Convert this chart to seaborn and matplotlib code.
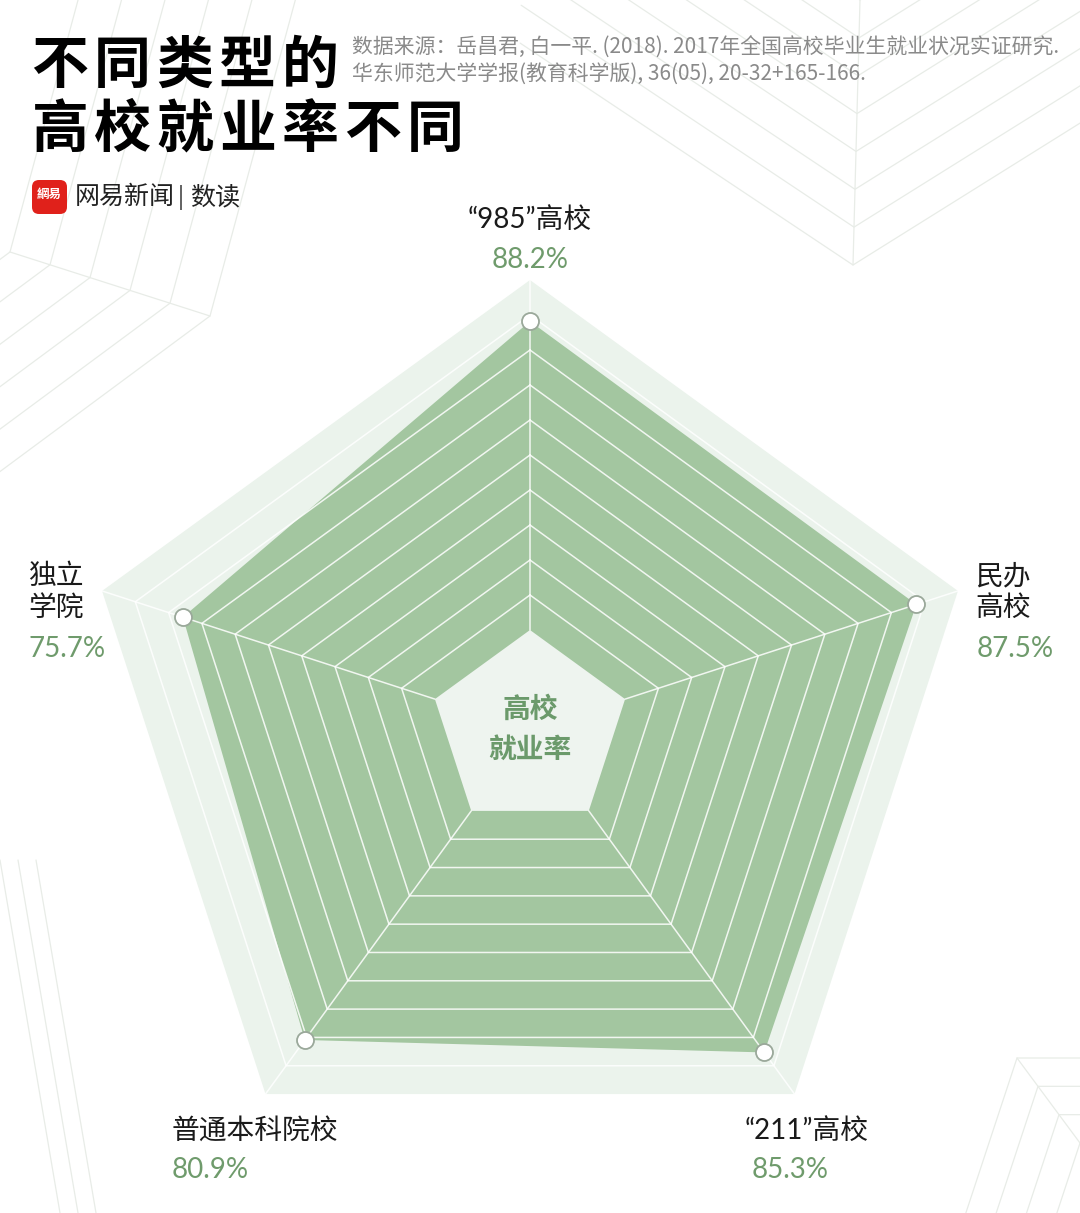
import numpy as np
import pandas as pd
import matplotlib
matplotlib.use("Agg")
import matplotlib.pyplot as plt
from matplotlib.patches import FancyBboxPatch
import seaborn as sns

# 数据
categories = ["“985”高校", "民办\n高校", "“211”高校", "普通本科院校", "独立\n学院"]
values = [88.2, 87.5, 85.3, 80.9, 75.7]
value_labels = ["88.2%", "87.5%", "85.3%", "80.9%", "75.7%"]
ring_levels = list(range(0, 101, 10))

title_lines = ["不同类型的", "高校就业率不同"]
source_lines = ["数据来源：岳昌君, 白一平. (2018). 2017年全国高校毕业生就业状况实证研究.",
                "华东师范大学学报(教育科学版), 36(05), 20-32+165-166."]

sns.set_style("white")
plt.rcParams['font.family'] = ['Noto Sans CJK SC', 'DejaVu Sans']

W, H = 1080, 1213
fig = plt.figure(figsize=(W / 100, H / 100), dpi=100)
fig.patch.set_facecolor("white")

# 背景装饰线
bg = fig.add_axes([0, 0, 1, 1], zorder=0)
bg.set_xlim(0, W)
bg.set_ylim(H, 0)
bg.axis("off")
deco = "#e8ece7"

def chevron(p0, p1, n, d1, d2, L1, L2):
    # 沿 p0->p1 的脊线排布 n 条折线
    p0, p1 = np.array(p0, float), np.array(p1, float)
    bg.plot([p0[0], p1[0]], [p0[1], p1[1]], color=deco, lw=0.9)
    d1 = np.array(d1, float) / np.linalg.norm(d1)
    d2 = np.array(d2, float) / np.linalg.norm(d2)
    for i in range(n):
        p = p0 + (p1 - p0) * i / (n - 1)
        a, b = p + d1 * L1, p + d2 * L2
        bg.plot([a[0], p[0], b[0]], [a[1], p[1], b[1]], color=deco, lw=0.9)

chevron((860, 0), (853, 265), 8, (-1.5, -1), (1.6, -1), 400, 450)
chevron((10, 252), (210, 316), 6, (0.27, -1), (-1.35, 1), 400, 300)
chevron((1017, 1058), (1080, 1143), 4, (-0.33, 1), (1, 0), 200, 100)
for x0 in [0, 18, 36]:
    bg.plot([x0, x0 + 60], [860, 1213], color=deco, lw=0.9)

# 雷达图
cx, cy, R = 530, 730, 450
ax = fig.add_axes([(cx - R) / W, (H - cy - R) / H, 2 * R / W, 2 * R / H],
                  projection="polar", zorder=1)
ax.set_theta_zero_location("N")
ax.set_theta_direction(-1)
ax.set_ylim(0, 100)
ax.set_rorigin(-100 * 100 / (R - 100))
ax.grid(False)
ax.set_xticks([])
ax.set_yticks([])
ax.set_axis_off()

theta = np.deg2rad(np.arange(len(categories)) * 360 / len(categories))
theta_c = np.append(theta, theta[0])
vals_c = np.append(values, values[0])

ax.fill(theta_c, [100] * len(theta_c), color="#ebf3ec", lw=0, zorder=1, clip_on=False)
ax.fill(theta_c, vals_c, color="#a3c6a0", lw=0, zorder=2, clip_on=False)
ax.fill(theta_c, [0] * len(theta_c), color="#eef4ef", lw=0, zorder=3, clip_on=False)
for r in ring_levels[1:-1]:
    ax.plot(theta_c, [r] * len(theta_c), color="white", lw=1.1, alpha=0.85,
            zorder=4, clip_on=False)
for t in theta:
    ax.plot([t, t], [0, 100], color="white", lw=1.1, alpha=0.85, zorder=4, clip_on=False)

df = pd.DataFrame({"theta": theta, "value": values, "cat": categories})
sns.scatterplot(data=df, x="theta", y="value", ax=ax, s=150, color="white",
                edgecolor="#9aa89a", linewidth=1.3, zorder=6, legend=False, clip_on=False)
ax.set_xlabel("")
ax.set_ylabel("")

# 中心文字
fig.text(cx / W, 1 - 710 / H, "高校", ha="center", va="center", fontsize=20,
         fontweight="bold", color="#6b9a6b")
fig.text(cx / W, 1 - 750 / H, "就业率", ha="center", va="center", fontsize=20,
         fontweight="bold", color="#6b9a6b")

# 类别标签
lab_font = ['Lato', 'Noto Sans CJK SC']
label_pos = [(530, 220, "center"), (975, 592, "left"), (745, 1131, "left"),
             (172, 1131, "left"), (28, 592, "left")]
pct_pos = [(530, 260), (977, 649), (752, 1170), (172, 1170), (28, 649)]
for cat, vl, (lx, ly, ha), (px, py) in zip(categories, value_labels, label_pos, pct_pos):
    fig.text(lx / W, 1 - ly / H, cat, ha=ha, va="center", fontsize=20,
             color="#1a1a1a", family=lab_font, linespacing=1.25)
    fig.text(px / W, 1 - py / H, vl, ha="center" if ha == "center" else "left",
             va="center", fontsize=20, color="#6f9b6c", family=['Lato', 'DejaVu Sans'])

# 标题（逐字排布，字距较宽）
for row, (line, ty) in enumerate(zip(title_lines, [66, 130])):
    for i, ch in enumerate(line):
        fig.text((60 + i * 62.5) / W, 1 - ty / H, ch, ha="center", va="center",
                 fontsize=41, fontweight="bold", color="black")
fig.text(352 / W, 1 - 48 / H, source_lines[0], ha="left", va="center", fontsize=15,
         color="#8a8a8a")
fig.text(352 / W, 1 - 74 / H, source_lines[1], ha="left", va="center", fontsize=15,
         color="#8a8a8a")

# 网易数读 标识
logo = FancyBboxPatch((32, 180), 35, 34, boxstyle="round,pad=0,rounding_size=7",
                      fc="#e0211b", ec="none", transform=bg.transData, zorder=3)
bg.add_patch(logo)
bg.text(49.5, 194, "網易", ha="center", va="center", fontsize=9, fontweight="bold",
        color="white", zorder=4)
fig.text(75 / W, 1 - 197 / H, "网易新闻", ha="left", va="center", fontsize=18,
         color="#222222")
fig.text(181 / W, 1 - 197 / H, "|", ha="center", va="center", fontsize=17,
         color="#666666", family=['DejaVu Sans'])
fig.text(190 / W, 1 - 197 / H, "数读", ha="left", va="center", fontsize=18,
         color="#222222")

fig.savefig("out.png", dpi=100, facecolor="white")
